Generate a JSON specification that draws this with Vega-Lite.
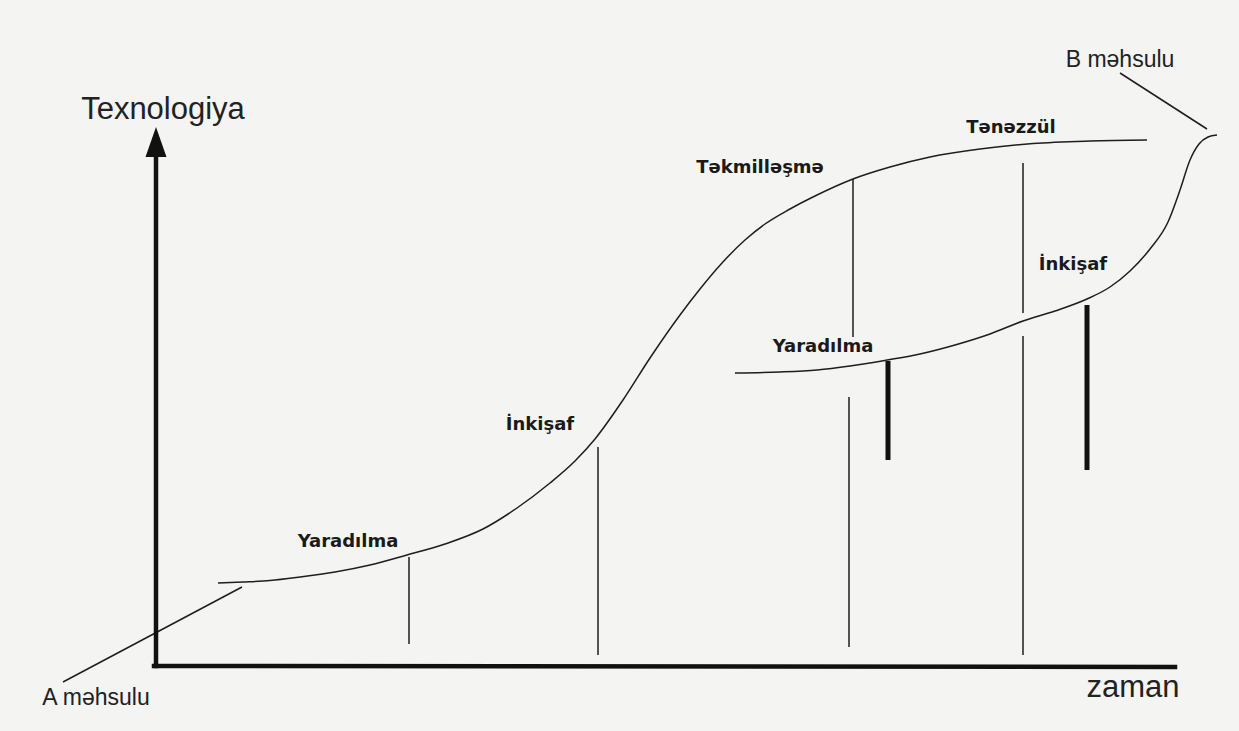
{
  "$schema": "https://vega.github.io/schema/vega-lite/v6.json",
  "width": 1239,
  "height": 731,
  "autosize": {"type": "fit", "contains": "padding"},
  "padding": 0,
  "background": "#f4f4f2",
  "config": {"view": {"stroke": null}},
  "datasets": {
    "curves": [
      {"id": "A", "ord": 1, "x": 218, "y": 583},
      {"id": "A", "ord": 2, "x": 243, "y": 582},
      {"id": "A", "ord": 3, "x": 270, "y": 580.5},
      {"id": "A", "ord": 4, "x": 300, "y": 577},
      {"id": "A", "ord": 5, "x": 335, "y": 572},
      {"id": "A", "ord": 6, "x": 370, "y": 565},
      {"id": "A", "ord": 7, "x": 407, "y": 555},
      {"id": "A", "ord": 8, "x": 445, "y": 544},
      {"id": "A", "ord": 9, "x": 483, "y": 529},
      {"id": "A", "ord": 10, "x": 517, "y": 508},
      {"id": "A", "ord": 11, "x": 550, "y": 483},
      {"id": "A", "ord": 12, "x": 575, "y": 461},
      {"id": "A", "ord": 13, "x": 595, "y": 439},
      {"id": "A", "ord": 14, "x": 623, "y": 400},
      {"id": "A", "ord": 15, "x": 650, "y": 358},
      {"id": "A", "ord": 16, "x": 680, "y": 315},
      {"id": "A", "ord": 17, "x": 700, "y": 289},
      {"id": "A", "ord": 18, "x": 722, "y": 263},
      {"id": "A", "ord": 19, "x": 745, "y": 240},
      {"id": "A", "ord": 20, "x": 765, "y": 224},
      {"id": "A", "ord": 21, "x": 790, "y": 209},
      {"id": "A", "ord": 22, "x": 815, "y": 196},
      {"id": "A", "ord": 23, "x": 853, "y": 179},
      {"id": "A", "ord": 24, "x": 890, "y": 167},
      {"id": "A", "ord": 25, "x": 930, "y": 157},
      {"id": "A", "ord": 26, "x": 980, "y": 149},
      {"id": "A", "ord": 27, "x": 1033, "y": 143.5},
      {"id": "A", "ord": 28, "x": 1090, "y": 141},
      {"id": "A", "ord": 29, "x": 1147, "y": 140},
      {"id": "B", "ord": 1, "x": 735, "y": 373},
      {"id": "B", "ord": 2, "x": 780, "y": 372},
      {"id": "B", "ord": 3, "x": 817, "y": 370},
      {"id": "B", "ord": 4, "x": 850, "y": 366},
      {"id": "B", "ord": 5, "x": 887, "y": 360},
      {"id": "B", "ord": 6, "x": 920, "y": 354},
      {"id": "B", "ord": 7, "x": 955, "y": 345},
      {"id": "B", "ord": 8, "x": 990, "y": 334},
      {"id": "B", "ord": 9, "x": 1023, "y": 321},
      {"id": "B", "ord": 10, "x": 1055, "y": 311},
      {"id": "B", "ord": 11, "x": 1087, "y": 299},
      {"id": "B", "ord": 12, "x": 1110, "y": 287},
      {"id": "B", "ord": 13, "x": 1130, "y": 271},
      {"id": "B", "ord": 14, "x": 1150, "y": 249},
      {"id": "B", "ord": 15, "x": 1168, "y": 222},
      {"id": "B", "ord": 16, "x": 1180, "y": 190},
      {"id": "B", "ord": 17, "x": 1190, "y": 160},
      {"id": "B", "ord": 18, "x": 1199, "y": 144},
      {"id": "B", "ord": 19, "x": 1208, "y": 137},
      {"id": "B", "ord": 20, "x": 1217, "y": 135}
    ],
    "segs": [
      {"kind": "axis", "x": 156, "y": 150, "x2": 156, "y2": 666},
      {"kind": "axis", "x": 154, "y": 666, "x2": 1175, "y2": 667},
      {"kind": "leader", "x": 63, "y": 682, "x2": 242, "y2": 587},
      {"kind": "leader", "x": 1120, "y": 73, "x2": 1207, "y2": 129},
      {"kind": "stage", "x": 409, "y": 557, "x2": 409, "y2": 644},
      {"kind": "stage", "x": 598, "y": 447, "x2": 598, "y2": 655},
      {"kind": "stage", "x": 853, "y": 179, "x2": 853, "y2": 337},
      {"kind": "stage", "x": 849, "y": 397, "x2": 849, "y2": 647},
      {"kind": "stage", "x": 1023, "y": 163, "x2": 1023, "y2": 313},
      {"kind": "stage", "x": 1023, "y": 336, "x2": 1023, "y2": 655},
      {"kind": "bar", "x": 888, "y": 361, "x2": 888, "y2": 460},
      {"kind": "bar", "x": 1087, "y": 305, "x2": 1087, "y2": 470}
    ],
    "arrows": [
      {"x": 156, "y": 142}
    ],
    "labels": [
      {"kind": "stage", "text": "Yaradılma", "x": 348, "y": 547},
      {"kind": "stage", "text": "İnkişaf", "x": 540, "y": 430},
      {"kind": "stage", "text": "Təkmilləşmə", "x": 760, "y": 173},
      {"kind": "stage", "text": "Yaradılma", "x": 823, "y": 352},
      {"kind": "stage", "text": "Tənəzzül", "x": 1011, "y": 133},
      {"kind": "stage", "text": "İnkişaf", "x": 1073, "y": 270},
      {"kind": "axis", "text": "Texnologiya", "x": 163, "y": 119},
      {"kind": "axis", "text": "zaman", "x": 1133, "y": 697},
      {"kind": "product", "text": "A məhsulu", "x": 96, "y": 705},
      {"kind": "product", "text": "B məhsulu", "x": 1120, "y": 67}
    ]
  },
  "encoding": {
    "x": {"field": "x", "type": "quantitative", "axis": null, "scale": {"domain": [0, 1239], "nice": false, "zero": false}},
    "y": {"field": "y", "type": "quantitative", "axis": null, "scale": {"domain": [0, 731], "reverse": true, "nice": false, "zero": false}}
  },
  "layer": [
    {
      "data": {"name": "curves"},
      "mark": {"type": "line", "interpolate": "monotone", "strokeWidth": 1.5, "color": "#1e1e1e"},
      "encoding": {
        "detail": {"field": "id", "type": "nominal"},
        "order": {"field": "ord", "type": "quantitative"}
      }
    },
    {
      "data": {"name": "segs"},
      "transform": [{"filter": "datum.kind === 'stage' || datum.kind === 'leader'"}],
      "mark": {"type": "rule", "strokeWidth": 1.5, "color": "#1e1e1e"},
      "encoding": {
        "x2": {"field": "x2"},
        "y2": {"field": "y2"}
      }
    },
    {
      "data": {"name": "segs"},
      "transform": [{"filter": "datum.kind === 'bar'"}],
      "mark": {"type": "rule", "strokeWidth": 5, "color": "#111111"},
      "encoding": {
        "x2": {"field": "x2"},
        "y2": {"field": "y2"}
      }
    },
    {
      "data": {"name": "segs"},
      "transform": [{"filter": "datum.kind === 'axis'"}],
      "mark": {"type": "rule", "strokeWidth": 4.5, "color": "#111111", "strokeCap": "square"},
      "encoding": {
        "x2": {"field": "x2"},
        "y2": {"field": "y2"}
      }
    },
    {
      "data": {"name": "arrows"},
      "mark": {"type": "point", "shape": "M0,-1L-0.7,1L0.7,1Z", "size": 900, "filled": true, "opacity": 1, "color": "#111111", "strokeWidth": 0}
    },
    {
      "data": {"name": "labels"},
      "transform": [{"filter": "datum.kind === 'stage'"}],
      "mark": {"type": "text", "font": "DejaVu Sans", "fontWeight": "bold", "fontSize": 18, "align": "center", "baseline": "alphabetic", "color": "#1a1a1a"},
      "encoding": {"text": {"field": "text"}}
    },
    {
      "data": {"name": "labels"},
      "transform": [{"filter": "datum.kind === 'axis'"}],
      "mark": {"type": "text", "font": "Liberation Sans", "fontSize": 31, "align": "center", "baseline": "alphabetic", "color": "#222222"},
      "encoding": {"text": {"field": "text"}}
    },
    {
      "data": {"name": "labels"},
      "transform": [{"filter": "datum.kind === 'product'"}],
      "mark": {"type": "text", "font": "Liberation Sans", "fontSize": 23, "align": "center", "baseline": "alphabetic", "color": "#222222"},
      "encoding": {"text": {"field": "text"}}
    }
  ]
}
